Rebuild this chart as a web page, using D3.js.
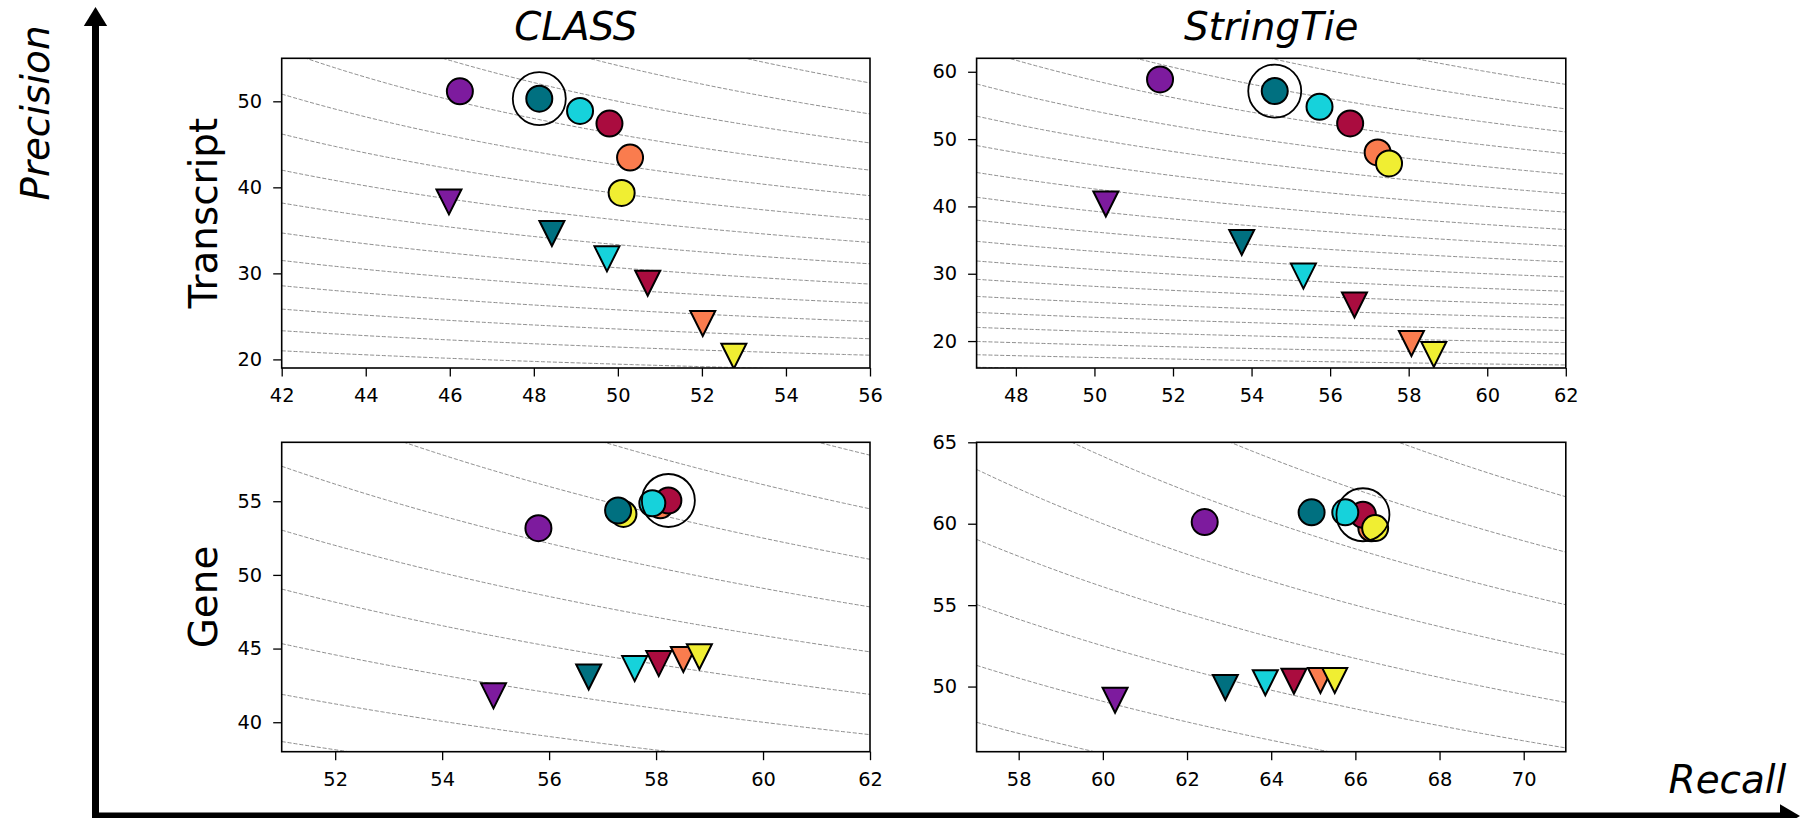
<!DOCTYPE html>
<html><head><meta charset="utf-8">
<script src="https://cdn.jsdelivr.net/npm/d3@7"></script>
<style>
html,body{margin:0;padding:0;background:#fff;}
svg{display:block;font-family:"DejaVu Sans",sans-serif;}
</style></head><body>
<svg id="chart" width="1802" height="818"></svg>
<script>
// ---------- DATA ----------
// Six methods (colour order): purple, teal, cyan, crimson, orange, yellow
const methodColors = ["#7D1B9E", "#007080", "#16D2DB", "#AA0C3F", "#FA7C4E", "#F0EE32"];
const tools = ["CLASS", "StringTie"];
const levels = ["Transcript", "Gene"];

// CLASS – Transcript level
const classTxCircleRecall    = [46.24, 48.13, 49.10, 49.80, 50.29, 50.09];
const classTxCirclePrecision = [51.16, 50.31, 48.88, 47.41, 43.46, 39.35];
const classTxTriRecall       = [45.98, 48.43, 49.74, 50.71, 52.02, 52.76];
const classTxTriPrecision    = [38.31, 34.63, 31.69, 28.86, 24.18, 20.38];

// StringTie – Transcript level
const stTxCircleRecall    = [51.67, 54.59, 55.73, 56.51, 57.21, 57.50];
const stTxCirclePrecision = [58.86, 57.13, 54.80, 52.33, 48.02, 46.39];
const stTxTriRecall       = [50.29, 53.75, 55.32, 56.62, 58.07, 58.64];
const stTxTriPrecision    = [40.35, 34.65, 29.65, 25.35, 19.65, 18.02];

// CLASS – Gene level
const classGeneCircleRecall    = [55.80, 57.29, 57.93, 58.23, 58.08, 57.39];
const classGeneCirclePrecision = [53.17, 54.37, 54.86, 55.05, 54.72, 54.14];
const classGeneTriRecall       = [54.96, 56.74, 57.60, 58.05, 58.51, 58.81];
const classGeneTriPrecision    = [41.79, 43.07, 43.64, 43.98, 44.26, 44.45];

// StringTie – Gene level
const stGeneCircleRecall    = [62.42, 64.96, 65.76, 66.18, 66.38, 66.47];
const stGeneCirclePrecision = [60.10, 60.70, 60.70, 60.55, 59.72, 59.73];
const stGeneTriRecall       = [60.29, 62.91, 63.86, 64.54, 65.17, 65.51];
const stGeneTriPrecision    = [49.16, 49.94, 50.23, 50.33, 50.37, 50.37];

// highlighted (ringed) method index per panel
const highlighted = [1, 1, 3, 3];

// axis domains and ticks per panel (CLASS-Tx, StringTie-Tx, CLASS-Gene, StringTie-Gene)
const xDomains = [[42, 56], [47, 62], [51, 62], [57, 71]];
const yDomains = [[19, 55], [16, 62], [38, 59], [46, 65]];
const xTickValues = [
  [42, 44, 46, 48, 50, 52, 54, 56],
  [48, 50, 52, 54, 56, 58, 60, 62],
  [52, 54, 56, 58, 60, 62],
  [58, 60, 62, 64, 66, 68, 70]
];
const yTickValues = [
  [20, 30, 40, 50],
  [20, 30, 40, 50, 60],
  [40, 45, 50, 55],
  [50, 55, 60, 65]
];

// F-score iso-lines
const fLevels = [20, 22, 24, 26, 28, 30, 32, 34, 36, 38, 40, 42, 44, 46, 48, 50,
                 52, 54, 56, 58, 60, 62, 64, 66, 68, 70];

// ---------- LAYOUT ----------
const colX = [[281.7, 870], [976.6, 1565.8]];
const rowY = [[58.3, 368], [442.3, 751.7]];
const circleOrder = [4, 3, 5, 2, 1, 0];
const triOrder = [0, 1, 2, 3, 4, 5];

const panels = [
  {col: 0, row: 0, cR: classTxCircleRecall, cP: classTxCirclePrecision, tR: classTxTriRecall, tP: classTxTriPrecision},
  {col: 1, row: 0, cR: stTxCircleRecall, cP: stTxCirclePrecision, tR: stTxTriRecall, tP: stTxTriPrecision},
  {col: 0, row: 1, cR: classGeneCircleRecall, cP: classGeneCirclePrecision, tR: classGeneTriRecall, tP: classGeneTriPrecision},
  {col: 1, row: 1, cR: stGeneCircleRecall, cP: stGeneCirclePrecision, tR: stGeneTriRecall, tP: stGeneTriPrecision}
];

const svg = d3.select("#chart");
const defs = svg.append("defs");
const tickFont = 19.4, bigFont = 38.9;

panels.forEach((p, i) => {
  const [x0, x1] = colX[p.col];
  const [y0, y1] = rowY[p.row];
  const x = d3.scaleLinear().domain(xDomains[i]).range([x0, x1]);
  const y = d3.scaleLinear().domain(yDomains[i]).range([y1, y0]);

  const clipId = "clip" + i;
  defs.append("clipPath").attr("id", clipId)
    .append("rect").attr("x", x0).attr("y", y0).attr("width", x1 - x0).attr("height", y1 - y0);

  const g = svg.append("g");
  const inner = g.append("g").attr("clip-path", `url(#${clipId})`);

  // iso-F curves
  const [rMin, rMax] = xDomains[i];
  const line = d3.line().x(d => x(d[0])).y(d => y(d[1]));
  fLevels.forEach(F => {
    const pts = [];
    const n = 300;
    for (let k = 0; k <= n; k++) {
      const r = rMin + (rMax - rMin) * k / n;
      if (2 * r - F <= 0) continue;
      const pr = F * r / (2 * r - F);
      if (pr > yDomains[i][1] + 20 || pr < yDomains[i][0] - 20) continue;
      pts.push([r, pr]);
    }
    if (pts.length > 1) {
      inner.append("path").attr("d", line(pts))
        .attr("fill", "none").attr("stroke", "#8c8c8c")
        .attr("stroke-width", 1).attr("stroke-dasharray", "4.1,1.8");
    }
  });

  // triangles (downward)
  const s = 12.5;
  triOrder.forEach(k => {
    const cx = x(p.tR[k]), cy = y(p.tP[k]);
    inner.append("path")
      .attr("d", `M${cx - s},${cy - s}L${cx + s},${cy - s}L${cx},${cy + s}Z`)
      .attr("fill", methodColors[k]).attr("stroke", "#000")
      .attr("stroke-width", 2).attr("stroke-linejoin", "miter");
  });

  // circles
  circleOrder.forEach(k => {
    inner.append("circle")
      .attr("cx", x(p.cR[k])).attr("cy", y(p.cP[k])).attr("r", 13)
      .attr("fill", methodColors[k]).attr("stroke", "#000").attr("stroke-width", 2);
  });

  // highlight ring
  const h = highlighted[i];
  g.append("circle")
    .attr("cx", x(p.cR[h])).attr("cy", y(p.cP[h])).attr("r", 26.5)
    .attr("fill", "none").attr("stroke", "#000").attr("stroke-width", 1.8);

  // axes
  const xa = g.append("g").attr("transform", `translate(0,${y1})`)
    .call(d3.axisBottom(x).tickValues(xTickValues[i]).tickSize(8.5).tickPadding(12).tickFormat(d3.format("d")));
  const ya = g.append("g").attr("transform", `translate(${x0},0)`)
    .call(d3.axisLeft(y).tickValues(yTickValues[i]).tickSize(8.5).tickPadding(11).tickFormat(d3.format("d")));
  [xa, ya].forEach(a => {
    a.select(".domain").remove();
    a.selectAll(".tick line").attr("stroke", "#000").attr("stroke-width", 1.3);
    a.selectAll(".tick text").attr("fill", "#000")
      .style("font-size", tickFont + "px").style("font-family", "DejaVu Sans");
  });

  // frame
  g.append("rect").attr("x", x0).attr("y", y0).attr("width", x1 - x0).attr("height", y1 - y0)
    .attr("fill", "none").attr("stroke", "#000").attr("stroke-width", 1.6);
});

// column titles
tools.forEach((t, c) => {
  svg.append("text").attr("x", (colX[c][0] + colX[c][1]) / 2).attr("y", 40)
    .attr("text-anchor", "middle").style("font-size", bigFont + "px").style("font-style", "italic")
    .text(t);
});
// row labels
levels.forEach((t, r) => {
  const yc = (rowY[r][0] + rowY[r][1]) / 2;
  svg.append("text").attr("transform", `translate(216.7,${yc}) rotate(-90)`)
    .attr("text-anchor", "middle").style("font-size", bigFont + "px").text(t);
});

// big arrows
svg.append("line").attr("x1", 95.5).attr("x2", 95.5).attr("y1", 819).attr("y2", 24)
  .attr("stroke", "#000").attr("stroke-width", 7);
svg.append("path").attr("d", "M83.8,26L107.2,26L95.5,7Z").attr("fill", "#000");
svg.append("line").attr("x1", 92).attr("x2", 1782).attr("y1", 816).attr("y2", 816)
  .attr("stroke", "#000").attr("stroke-width", 7);
svg.append("path").attr("d", "M1780,804.3L1780,827.7L1800,816Z").attr("fill", "#000");

svg.append("text").attr("transform", "translate(49,113) rotate(-90)")
  .attr("text-anchor", "middle").style("font-size", bigFont + "px").style("font-style", "italic")
  .text("Precision");
svg.append("text").attr("x", 1727.5).attr("y", 793)
  .attr("text-anchor", "middle").style("font-size", bigFont + "px").style("font-style", "italic")
  .text("Recall");
</script>
</body></html>
